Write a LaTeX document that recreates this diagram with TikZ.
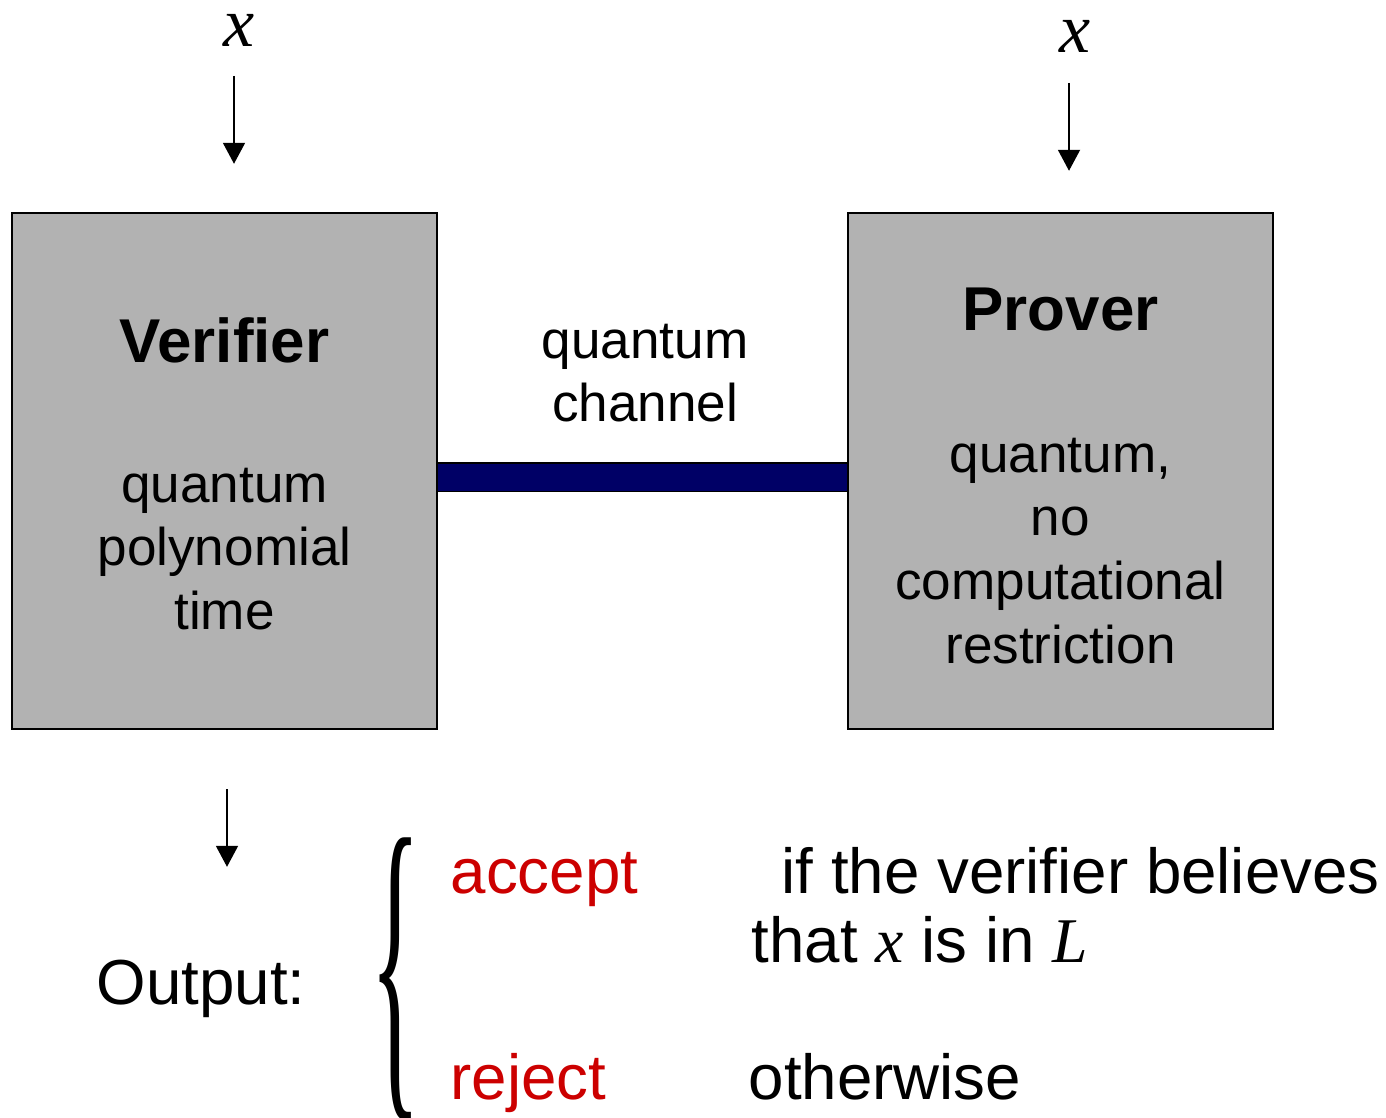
\documentclass[tikz,border=0pt]{standalone}
\usepackage{fontspec}
\usepackage{graphicx}
\setmainfont{Liberation Sans}
\newfontfamily\timesfont{Liberation Serif}
\usetikzlibrary{arrows.meta}

\definecolor{boxgray}{HTML}{B2B2B2}
\definecolor{wirenavy}{HTML}{000066}
\definecolor{outred}{HTML}{CC0000}

% italic variable in the serif face
\newcommand{\ivar}[1]{{\timesfont\itshape #1}}

\begin{document}
\begin{tikzpicture}[x=0.01cm, y=-0.01cm,
    party/.style={draw=black, line width=0.6pt, fill=boxgray,
      minimum width=4.25cm, minimum height=5.16cm, inner sep=0pt},
    heading/.style={inner sep=0pt, font=\fontsize{17.6}{21}\selectfont\bfseries},
    boxtext/.style={inner sep=0pt, align=center, font=\fontsize{15.1}{18.1}\selectfont},
    bigtext/.style={inner sep=0pt, font=\fontsize{18.1}{19.4}\selectfont},
    invar/.style={inner sep=0pt, font=\fontsize{19.9}{24}\selectfont\timesfont\itshape},
    feed/.style={-{Triangle[width=0.22cm, length=0.21cm]}, line width=0.5pt},
    channel/.style={line width=0.5pt, double=wirenavy, double distance=0.27cm}]
  \useasboundingbox (0,0) rectangle (1386,1117);

  % the two parties
  \node[party] (verifier) at (224.5,471) {};
  \node[party] (prover) at (1060.5,471) {};

  \node[heading, anchor=base] (vname) at (224.5,362) {Verifier};
  \node[boxtext, anchor=north] (vpower) at (224.5,467)
    {quantum\\polynomial\\time};
  \node[heading, anchor=base] (pname) at (1060.5,330) {Prover};
  \node[boxtext, anchor=north] (ppower) at (1060.5,437)
    {quantum,\\no\\computational\\restriction};

  % channel between them
  \draw[channel] ([yshift=-0.06cm]verifier.east) -- ([yshift=-0.06cm]prover.west);
  \node[boxtext, anchor=north] (chname) at (645,323) {quantum\\channel};

  % common input
  \coordinate (vcol) at (234,0);
  \coordinate (pcol) at (1069,0);
  \node[invar] (xv) at (239,30) {x};
  \node[invar] (xp) at (1075,36) {x};
  \draw[feed, shorten <=0.29cm, shorten >=0.48cm] (xv.south -| vcol) -- (verifier.north -| vcol);
  \draw[feed, shorten <=0.30cm, shorten >=0.41cm] (xp.south -| pcol) -- (prover.north -| pcol);

  % output of the verifier
  \coordinate (ocol) at (227,0);
  \node[bigtext, anchor=base west] (output) at (96,1004) {Output:};
  \draw[feed, shorten <=0.59cm, shorten >=0.92cm] (verifier.south -| ocol) -- (output.north -| ocol);

  \node[inner sep=0pt] (brace) at (396,979)
    {\scalebox{1.65}[5.36]{\fontsize{18.1}{20}\selectfont\timesfont\{}};

  \node[bigtext, text=outred, anchor=base west] (accept) at (450,893) {accept};
  \node[bigtext, text=outred, anchor=base west] (reject) at (450,1099) {reject};
  \node[bigtext, align=left, anchor=north west] (acctext) at (751,847)
    {\hspace{0.3cm}if the verifier believes\\that \ivar{x} is in \ivar{L}};
  \node[bigtext, anchor=base west] (rejtext) at (748,1099) {otherwise};
\end{tikzpicture}
\end{document}
